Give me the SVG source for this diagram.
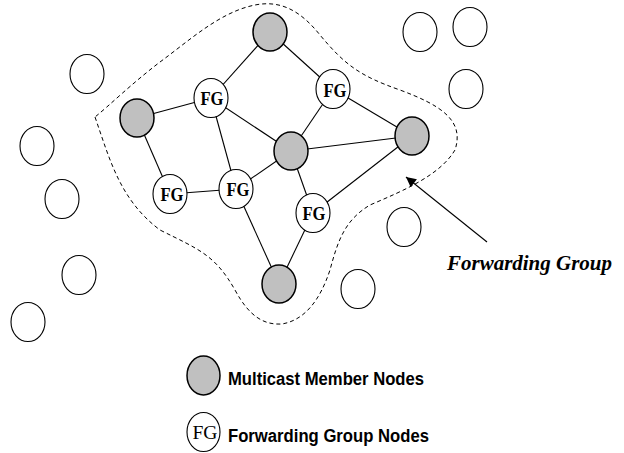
<svg xmlns="http://www.w3.org/2000/svg" width="624" height="453" viewBox="0 0 624 453">
<defs>
<style>
.m{fill:#c0c0c0;stroke:#000;stroke-width:1.5}
.f{fill:#fff;stroke:#000;stroke-width:1.1}
.e{fill:#fff;stroke:#000;stroke-width:1.1}
.lbl{font-family:"Liberation Serif",serif;font-weight:bold;font-size:18px;text-anchor:middle}
.ln{stroke:#000;stroke-width:1.1;fill:none}
.leg{font-family:"Liberation Sans",Arial,sans-serif;font-weight:bold;font-size:18px}
</style>
<marker id="ah" viewBox="0 0 10 10" refX="10" refY="5" markerWidth="14" markerHeight="10" markerUnits="userSpaceOnUse" orient="auto">
<path d="M0,0 L10,5 L0,10 z" fill="#000"/>
</marker>
</defs>
<rect width="624" height="453" fill="#fff"/>
<path id="boundary" d="M95,117 C110,160 120,200 160,230 C200,250 215,255 235,290 C250,318 265,325 282,324 C305,320 320,300 330,270 C338,240 345,220 370,205 C405,190 440,175 455,150 C465,120 440,105 400,90 C360,76 345,65 320,35 C300,10 280,0 255,5 C220,12 190,40 160,62 C130,85 110,105 95,117 Z" fill="none" stroke="#000" stroke-width="1" stroke-dasharray="4,3"/>
<g id="connectors">
<line class="ln" x1="270" y1="32" x2="211" y2="98"/>
<line class="ln" x1="270" y1="32" x2="333" y2="89"/>
<line class="ln" x1="137" y1="118" x2="211" y2="98"/>
<line class="ln" x1="137" y1="118" x2="170" y2="194"/>
<line class="ln" x1="211" y1="98" x2="291" y2="151"/>
<line class="ln" x1="211" y1="98" x2="236" y2="189"/>
<line class="ln" x1="170" y1="194" x2="236" y2="189"/>
<line class="ln" x1="236" y1="189" x2="291" y2="151"/>
<line class="ln" x1="236" y1="189" x2="279" y2="284"/>
<line class="ln" x1="333" y1="89" x2="291" y2="151"/>
<line class="ln" x1="333" y1="89" x2="412" y2="136"/>
<line class="ln" x1="291" y1="151" x2="412" y2="136"/>
<line class="ln" x1="291" y1="151" x2="313" y2="213"/>
<line class="ln" x1="313" y1="213" x2="412" y2="136"/>
<line class="ln" x1="313" y1="213" x2="279" y2="284"/>
<line class="ln" x1="487" y1="242" x2="406" y2="177" marker-end="url(#ah)"/>
</g>
<g id="m1"><ellipse class="m" cx="270" cy="32" rx="17" ry="19"/></g>
<g id="m2"><ellipse class="m" cx="137" cy="118" rx="17" ry="19"/></g>
<g id="m3"><ellipse class="m" cx="291" cy="151" rx="17" ry="19"/></g>
<g id="m4"><ellipse class="m" cx="412" cy="136" rx="17" ry="19"/></g>
<g id="m5"><ellipse class="m" cx="279" cy="284" rx="17" ry="19"/></g>
<g id="fg1"><ellipse class="f" cx="211" cy="98" rx="17" ry="19.5"/><text class="lbl" x="212" y="105" textLength="23" lengthAdjust="spacingAndGlyphs">FG</text></g>
<g id="fg2"><ellipse class="f" cx="333" cy="89" rx="17" ry="19.5"/><text class="lbl" x="335" y="97" textLength="23" lengthAdjust="spacingAndGlyphs">FG</text></g>
<g id="fg3"><ellipse class="f" cx="170" cy="194" rx="17" ry="19.5"/><text class="lbl" x="172" y="201" textLength="23" lengthAdjust="spacingAndGlyphs">FG</text></g>
<g id="fg4"><ellipse class="f" cx="236" cy="189" rx="17" ry="19.5"/><text class="lbl" x="238" y="196" textLength="23" lengthAdjust="spacingAndGlyphs">FG</text></g>
<g id="fg5"><ellipse class="f" cx="313" cy="213" rx="17" ry="19.5"/><text class="lbl" x="314" y="220" textLength="23" lengthAdjust="spacingAndGlyphs">FG</text></g>
<g id="n1"><ellipse class="e" cx="87" cy="74" rx="17" ry="19.5"/></g>
<g id="n2"><ellipse class="e" cx="37" cy="146" rx="17" ry="19.5"/></g>
<g id="n3"><ellipse class="e" cx="62" cy="199" rx="17" ry="19.5"/></g>
<g id="n4"><ellipse class="e" cx="79" cy="275" rx="17" ry="19.5"/></g>
<g id="n5"><ellipse class="e" cx="28" cy="322" rx="17" ry="19.5"/></g>
<g id="n6"><ellipse class="e" cx="420" cy="32" rx="17" ry="19.5"/></g>
<g id="n7"><ellipse class="e" cx="470" cy="27" rx="17" ry="19.5"/></g>
<g id="n8"><ellipse class="e" cx="466" cy="89" rx="17" ry="19.5"/></g>
<g id="n9"><ellipse class="e" cx="404" cy="227" rx="17" ry="19.5"/></g>
<g id="n10"><ellipse class="e" cx="358" cy="289" rx="17" ry="19.5"/></g>
<text id="fglabel" x="447" y="270" font-family="'Liberation Serif',serif" font-style="italic" font-weight="bold" font-size="22" textLength="165" lengthAdjust="spacingAndGlyphs">Forwarding Group</text>
<g id="legend">
<ellipse class="m" cx="203.5" cy="375.5" rx="16.5" ry="19.5"/>
<text class="leg" x="228" y="385" textLength="196" lengthAdjust="spacingAndGlyphs">Multicast Member Nodes</text>
<ellipse class="f" cx="203.5" cy="432" rx="16.5" ry="19.5"/>
<text x="205" y="439" font-family="'Liberation Serif',serif" font-size="19" text-anchor="middle" textLength="25" lengthAdjust="spacingAndGlyphs">FG</text>
<text class="leg" x="228" y="442" textLength="201" lengthAdjust="spacingAndGlyphs">Forwarding Group Nodes</text>
</g>
</svg>
